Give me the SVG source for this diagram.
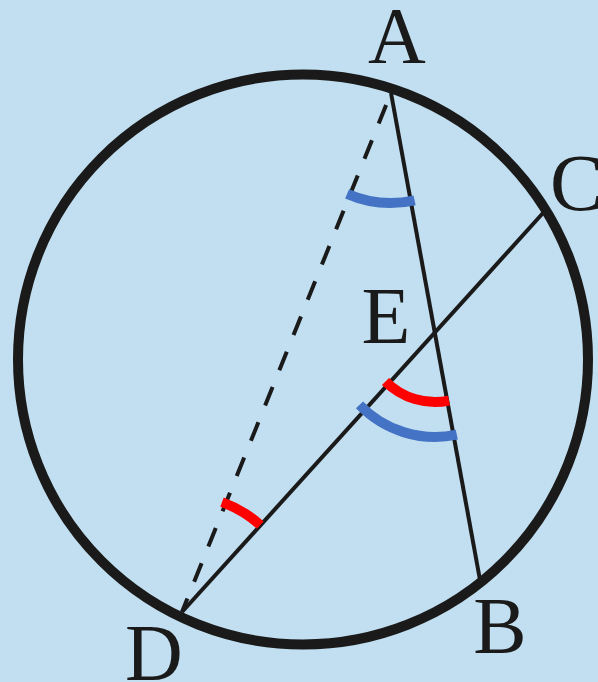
<svg xmlns="http://www.w3.org/2000/svg" width="598" height="682" viewBox="0 0 598 682">
  <style>
    .lbl { font-family: "Liberation Serif", "Times New Roman", serif; font-size: 80px; fill: #1a1a1a; }
    .seg { stroke: #1a1a1a; stroke-width: 4; fill: none; }
    .dash { stroke-dasharray: 20 18; stroke-dashoffset: 25; }
    .blue { stroke: #4472C4; stroke-width: 10; fill: none; }
    .red { stroke: #FF0000; stroke-width: 10; fill: none; }
  </style>
  <rect width="598" height="682" fill="#C1DFF0"/>
  <g id="connectors">
    <line class="seg dash" x1="391" y1="93" x2="182" y2="612"/>
    <line class="seg" x1="391" y1="93" x2="480" y2="580"/>
    <line class="seg" x1="543" y1="213" x2="182" y2="612"/>
  </g>
  <g id="circle">
    <circle cx="303" cy="359.5" r="285" fill="none" stroke="#1a1a1a" stroke-width="10"/>
  </g>
  <g id="angles">
    <path class="blue" d="M347.1,193.9 A110,110 0 0 0 414.6,200.4"/>
    <path class="blue" d="M359.5,404.9 A105,105 0 0 0 456.8,434.7"/>
    <path class="red" d="M385.5,381.5 A70,70 0 0 0 449,400.6"/>
    <path class="red" d="M222,502.1 A117,117 0 0 1 260.3,525.1"/>
  </g>
  <g id="A"><text class="lbl" x="397" y="63" text-anchor="middle">A</text></g>
  <g id="B"><text class="lbl" x="500" y="653" text-anchor="middle">B</text></g>
  <g id="C"><text class="lbl" x="550" y="210">C</text></g>
  <g id="D"><text class="lbl" x="154" y="680" text-anchor="middle">D</text></g>
  <g id="E"><text class="lbl" x="386" y="343" text-anchor="middle">E</text></g>
</svg>
